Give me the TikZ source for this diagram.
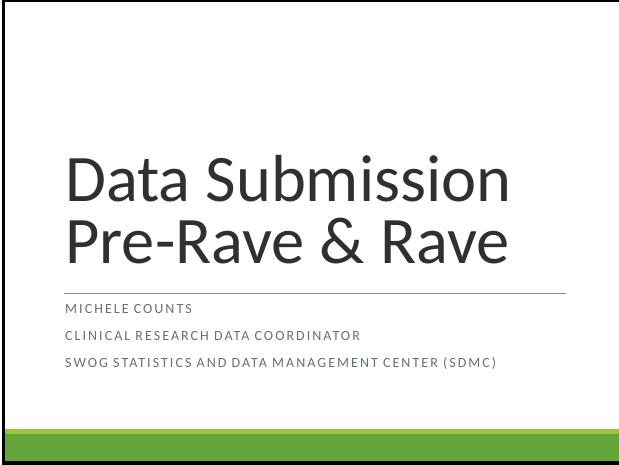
\documentclass[tikz,border=0pt]{standalone}
\usepackage{fontspec}
\setmainfont{Carlito}
\definecolor{titlegray}{HTML}{303030}
\definecolor{subgray}{HTML}{627469}
\definecolor{rulegray}{HTML}{8C8C8C}
\definecolor{lightgreen}{HTML}{9BC53D}
\definecolor{darkgreen}{HTML}{63A539}
\tikzset{
  titletext/.style={anchor=base west, inner sep=0pt, text=titlegray, font=\fontsize{66.5}{66.5}\selectfont},
  subtext/.style={anchor=base west, inner sep=0pt, text=subgray, font=\fontsize{14}{14}\selectfont\addfontfeatures{LetterSpace=14.5}}
}
\begin{document}
\begin{tikzpicture}[x=1pt,y=-1pt]
\useasboundingbox (0,0) rectangle (619,465);
\fill[white] (0,0) rectangle (619,465);
% green bands
\fill[lightgreen] (5,429) rectangle (619,434);
\fill[darkgreen] (5,434) rectangle (619,461);
% frame
\fill[black] (1.5,0) rectangle (5,465);
\fill[black] (1.5,0) rectangle (619,2);
\fill[black] (1.5,461) rectangle (619,465);
% title
\node[titletext] (t1) at (65,202) {Data Submission};
\node[titletext] (t2) at (65,264) {Pre-Rave \& Rave};
% rule
\coordinate (rl) at (64,294);
\coordinate (rr) at (566,294);
\draw[rulegray, line width=1pt] (rl) -- (rr);
% subtitle lines
\node[subtext] (s1) at (65,314) {MICHELE COUNTS};
\node[subtext] (s2) at (65,341) {CLINICAL RESEARCH DATA COORDINATOR};
\node[subtext] (s3) at (65,367) {SWOG STATISTICS AND DATA MANAGEMENT CENTER (SDMC)};
\end{tikzpicture}
\end{document}
